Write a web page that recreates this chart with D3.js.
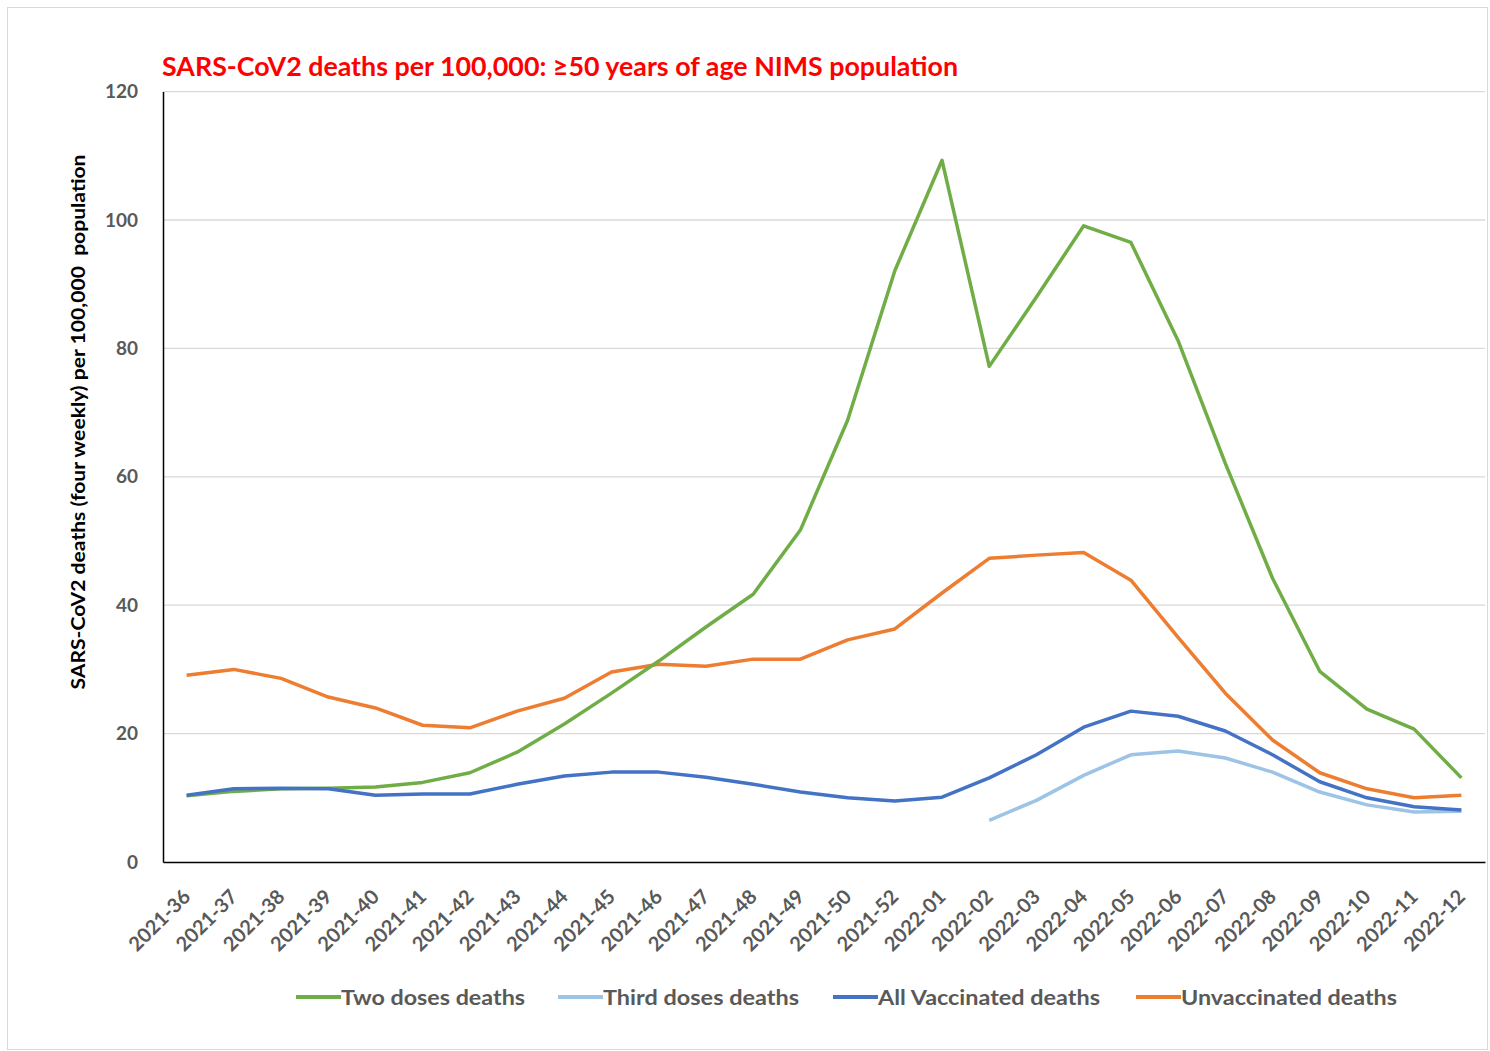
<!DOCTYPE html>
<html><head><meta charset="utf-8">
<script src="https://cdn.jsdelivr.net/npm/d3@7"></script>
<style>body{margin:0;background:#fff;} svg{display:block;}</style>
</head><body>
<svg id="c" width="1490" height="1051"></svg>
<script>
const categories = ["2021-36","2021-37","2021-38","2021-39","2021-40","2021-41","2021-42","2021-43","2021-44","2021-45","2021-46","2021-47","2021-48","2021-49","2021-50","2021-52","2022-01","2022-02","2022-03","2022-04","2022-05","2022-06","2022-07","2022-08","2022-09","2022-10","2022-11","2022-12"];
const twoDoses = [10.3,11.0,11.4,11.5,11.7,12.4,13.9,17.1,21.5,26.3,31.3,36.6,41.7,51.7,68.8,92.1,109.3,77.2,88.0,99.1,96.5,81.2,62.1,44.2,29.7,23.8,20.7,13.1];
const thirdDoses = [null,null,null,null,null,null,null,null,null,null,null,null,null,null,null,null,null,6.5,9.6,13.5,16.7,17.3,16.2,14.0,10.9,8.9,7.8,7.9];
const allVaccinated = [10.4,11.4,11.5,11.4,10.4,10.6,10.6,12.1,13.4,14.0,14.0,13.2,12.1,10.9,10.0,9.5,10.1,13.1,16.7,21.0,23.5,22.7,20.4,16.7,12.5,10.0,8.6,8.1];
const unvaccinated = [29.1,30.0,28.6,25.7,24.0,21.3,20.9,23.5,25.5,29.6,30.8,30.5,31.6,31.6,34.6,36.3,41.9,47.3,47.8,48.2,43.9,35.0,26.3,19.0,13.9,11.4,10.0,10.4];
const yTicks = [0,20,40,60,80,100,120];
const seriesNames = ["Two doses deaths","Third doses deaths","All Vaccinated deaths","Unvaccinated deaths"];
const seriesColors = ["#70ad47","#9dc3e6","#4472c4","#ed7d31"];
const titleText = "SARS-CoV2 deaths per 100,000: \u226550 years of age NIMS population";
const yTitle = "SARS-CoV2 deaths (four weekly) per 100,000  population";

const svg = d3.select("#c");
const FONT = "Lato, 'Open Sans', sans-serif";
svg.append("rect").attr("x",7.5).attr("y",7.5).attr("width",1480).attr("height",1042)
  .attr("fill","#fff").attr("stroke","#d9d9d9");

const L=163, R=1485, T=91.6, B=862;
const x = d3.scaleBand().domain(categories).range([L,R]);
const y = d3.scaleLinear().domain([0,120]).range([B,T]);

// gridlines
svg.append("g").selectAll("line").data(yTicks.filter(d=>d>0)).join("line")
  .attr("x1",L).attr("x2",R).attr("y1",d=>y(d)).attr("y2",d=>y(d))
  .attr("stroke","#d9d9d9").attr("stroke-width",1.3);

// y axis
const ya = svg.append("g").attr("transform",`translate(${L},0)`)
  .call(d3.axisLeft(y).tickValues(yTicks).tickSize(0).tickPadding(25));
ya.select(".domain").attr("stroke","#000").attr("stroke-width",1.5);
ya.selectAll("text").attr("font-family",FONT).attr("font-weight","bold")
  .attr("font-size",19).attr("fill","#595959");

// x axis
const xa = svg.append("g").attr("transform",`translate(0,${B})`)
  .call(d3.axisBottom(x).tickSize(0).tickPadding(0));
xa.select(".domain").attr("stroke","#000").attr("stroke-width",1.5);
xa.selectAll("text").attr("font-family",FONT).attr("font-weight","bold")
  .attr("font-size",20).attr("fill","#595959")
  .attr("text-anchor","end").attr("dy",0)
  .attr("transform","translate(5,36) rotate(-45)");

// lines
const allSeries = [twoDoses, thirdDoses, allVaccinated, unvaccinated];
const line = d3.line().defined(d=>d.v!=null)
  .x(d=>x(d.c)+x.bandwidth()/2).y(d=>y(d.v));
const drawOrder = [3,0,1,2];
drawOrder.forEach(i=>{
  svg.append("path").datum(categories.map((c,j)=>({c, v: allSeries[i][j]})))
    .attr("d",line).attr("fill","none").attr("stroke",seriesColors[i])
    .attr("stroke-width",3.5).attr("stroke-linejoin","round");
});

// title
svg.append("text").attr("x",162).attr("y",76).text(titleText)
  .attr("textLength",796).attr("lengthAdjust","spacingAndGlyphs")
  .attr("font-family",FONT).attr("font-weight","bold").attr("font-size",26)
  .attr("fill","#ff0000");

// y title
svg.append("text").attr("transform","translate(85,422) rotate(-90)")
  .attr("text-anchor","middle").text(yTitle)
  .style("white-space","pre")
  .attr("textLength",535).attr("lengthAdjust","spacingAndGlyphs")
  .attr("font-family",FONT).attr("font-weight","bold").attr("font-size",19).attr("fill","#000");

// legend
const legX = [296,558,833,1136];
const legW = [184,196,222,216];
const lg = svg.append("g");
seriesNames.forEach((n,i)=>{
  const g = lg.append("g").attr("transform",`translate(${legX[i]},997)`);
  g.append("line").attr("x1",0).attr("x2",45).attr("y1",0).attr("y2",0)
    .attr("stroke",seriesColors[i]).attr("stroke-width",4);
  g.append("text").attr("x",45).attr("y",7.5).text(n)
    .attr("textLength",legW[i]).attr("lengthAdjust","spacingAndGlyphs")
    .attr("font-family",FONT).attr("font-weight","bold").attr("font-size",21).attr("fill","#595959");
});
</script>
</body></html>
